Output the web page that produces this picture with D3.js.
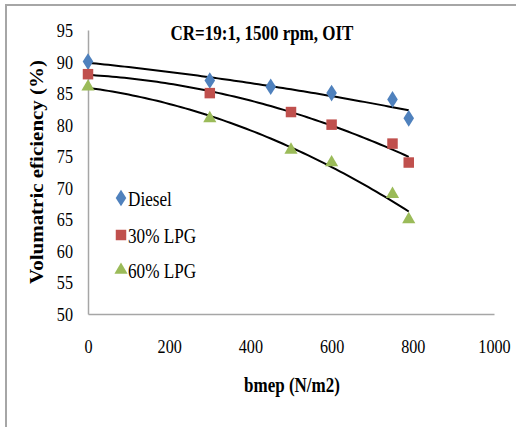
<!DOCTYPE html>
<html>
<head>
<meta charset="utf-8">
<script src="https://cdn.jsdelivr.net/npm/d3@7"></script>
<style>
  body { margin: 0; background: #fff; }
  text { font-family: "Liberation Serif", "Times New Roman", serif; fill: #000; }
</style>
</head>
<body>
<svg id="chart" width="516" height="427"></svg>
<script>
// data
const diesel = [[0, 90], [300, 87], [450, 86], [600, 85], [750, 84], [790, 81]];
const lpg30 = [[0, 88], [300, 85], [500, 82], [600, 80], [750, 77], [790, 74]];
const lpg60 = [[0, 86], [300, 81], [500, 76], [600, 74], [750, 69], [790, 65]];
const xTicks = [0, 200, 400, 600, 800, 1000];
const yTicks = [50, 55, 60, 65, 70, 75, 80, 85, 90, 95];

const series = [
  { name: "Diesel", data: diesel, color: "#4f81bd", shape: d3.symbolDiamond },
  { name: "30% LPG", data: lpg30, color: "#c0504d", shape: d3.symbolSquare },
  { name: "60% LPG", data: lpg60, color: "#9bbb59", shape: d3.symbolTriangle }
];

const sx = 0.85; // the picture is squeezed sideways

const svg = d3.select("#chart");

// outer frame (top + left only visible)
svg.append("path")
  .attr("d", "M6,427 V5 H516")
  .attr("fill", "none")
  .attr("stroke", "#a6a6a6")
  .attr("stroke-width", 2);

const x = d3.scaleLinear().domain([0, 1000]).range([88, 494]);
const y = d3.scaleLinear().domain([50, 95]).range([314, 30]);

// axes
const xAxis = svg.append("g")
  .attr("transform", "translate(0," + y(50) + ")")
  .call(d3.axisBottom(x).tickValues(xTicks).tickSize(0).tickFormat(d3.format("d")));
xAxis.select(".domain").attr("stroke", "#a6a6a6").attr("stroke-width", 1.5);
xAxis.selectAll("text")
  .attr("y", 0).attr("dy", 0)
  .attr("transform", "translate(0,39) scale(" + sx + ",1)")
  .style("font-size", "19px").style("font-family", "Liberation Serif");

const yAxis = svg.append("g")
  .attr("transform", "translate(" + x(0) + ",0)")
  .call(d3.axisLeft(y).tickValues(yTicks).tickSize(0));
yAxis.select(".domain").attr("stroke", "#a6a6a6").attr("stroke-width", 1.5);
yAxis.selectAll("text")
  .attr("x", 0).attr("dy", "0.34em")
  .attr("transform", "translate(-15,0) scale(" + sx + ",1)")
  .style("font-size", "19px").style("font-family", "Liberation Serif");

// quadratic least-squares trend, like the spreadsheet's trendline
function polyFit(pts) {
  let n = pts.length, s1 = 0, s2 = 0, s3 = 0, s4 = 0, t0 = 0, t1 = 0, t2 = 0;
  pts.forEach(([a, b]) => {
    s1 += a; s2 += a * a; s3 += a * a * a; s4 += a * a * a * a;
    t0 += b; t1 += a * b; t2 += a * a * b;
  });
  const M = [[n, s1, s2, t0], [s1, s2, s3, t1], [s2, s3, s4, t2]];
  for (let i = 0; i < 3; i++) {
    for (let k = i + 1; k < 3; k++) {
      const f = M[k][i] / M[i][i];
      for (let j = i; j < 4; j++) M[k][j] -= f * M[i][j];
    }
  }
  const c = [0, 0, 0];
  for (let i = 2; i >= 0; i--) {
    let s = M[i][3];
    for (let j = i + 1; j < 3; j++) s -= M[i][j] * c[j];
    c[i] = s / M[i][i];
  }
  return v => c[0] + c[1] * v + c[2] * v * v;
}

const line = d3.line().x(d => x(d[0])).y(d => y(d[1]));

series.forEach(s => {
  const f = polyFit(s.data);
  const xmax = d3.max(s.data, d => d[0]);
  const pts = d3.range(0, xmax + 1, 10).map(v => [v, f(v)]);
  svg.append("path")
    .attr("d", line(pts))
    .attr("fill", "none")
    .attr("stroke", "#000")
    .attr("stroke-width", 2);
});

function marker(s) {
  const size = s.shape === d3.symbolTriangle ? 75 : s.shape === d3.symbolSquare ? 110 : 80;
  return d3.symbol().type(s.shape).size(size);
}
function squeeze(s) {
  return s.shape === d3.symbolDiamond ? " scale(1.1,1)" : "";
}

// markers
series.forEach(s => {
  svg.append("g").selectAll("path")
    .data(s.data)
    .enter()
    .append("path")
    .attr("d", marker(s))
    .attr("transform", d => "translate(" + x(d[0]) + "," + y(d[1]) + ")" + squeeze(s))
    .attr("fill", s.color);
});

// legend
const legendY = [198, 235, 270];
series.forEach((s, i) => {
  svg.append("path")
    .attr("d", marker(s))
    .attr("transform", "translate(121," + legendY[i] + ")" + squeeze(s))
    .attr("fill", s.color);
  svg.append("text")
    .attr("transform", "translate(128," + (legendY[i] + 8) + ") scale(0.78,1)")
    .style("font-size", "22px")
    .text(s.name);
});

// title
svg.append("text")
  .attr("transform", "translate(262,40) scale(" + sx + ",1)")
  .attr("text-anchor", "middle")
  .style("font-size", "20px")
  .style("font-weight", "bold")
  .text("CR=19:1, 1500 rpm, OIT");

// axis titles
svg.append("text")
  .attr("transform", "translate(292,392) scale(" + sx + ",1)")
  .attr("text-anchor", "middle")
  .style("font-size", "20px")
  .style("font-weight", "bold")
  .text("bmep (N/m2)");

svg.append("text")
  .attr("transform", "translate(43,172) scale(" + sx + ",1) rotate(-90)")
  .attr("text-anchor", "middle")
  .style("font-size", "21px")
  .style("font-weight", "bold")
  .text("Volumatric eficiency (%)");
</script>
</body>
</html>
